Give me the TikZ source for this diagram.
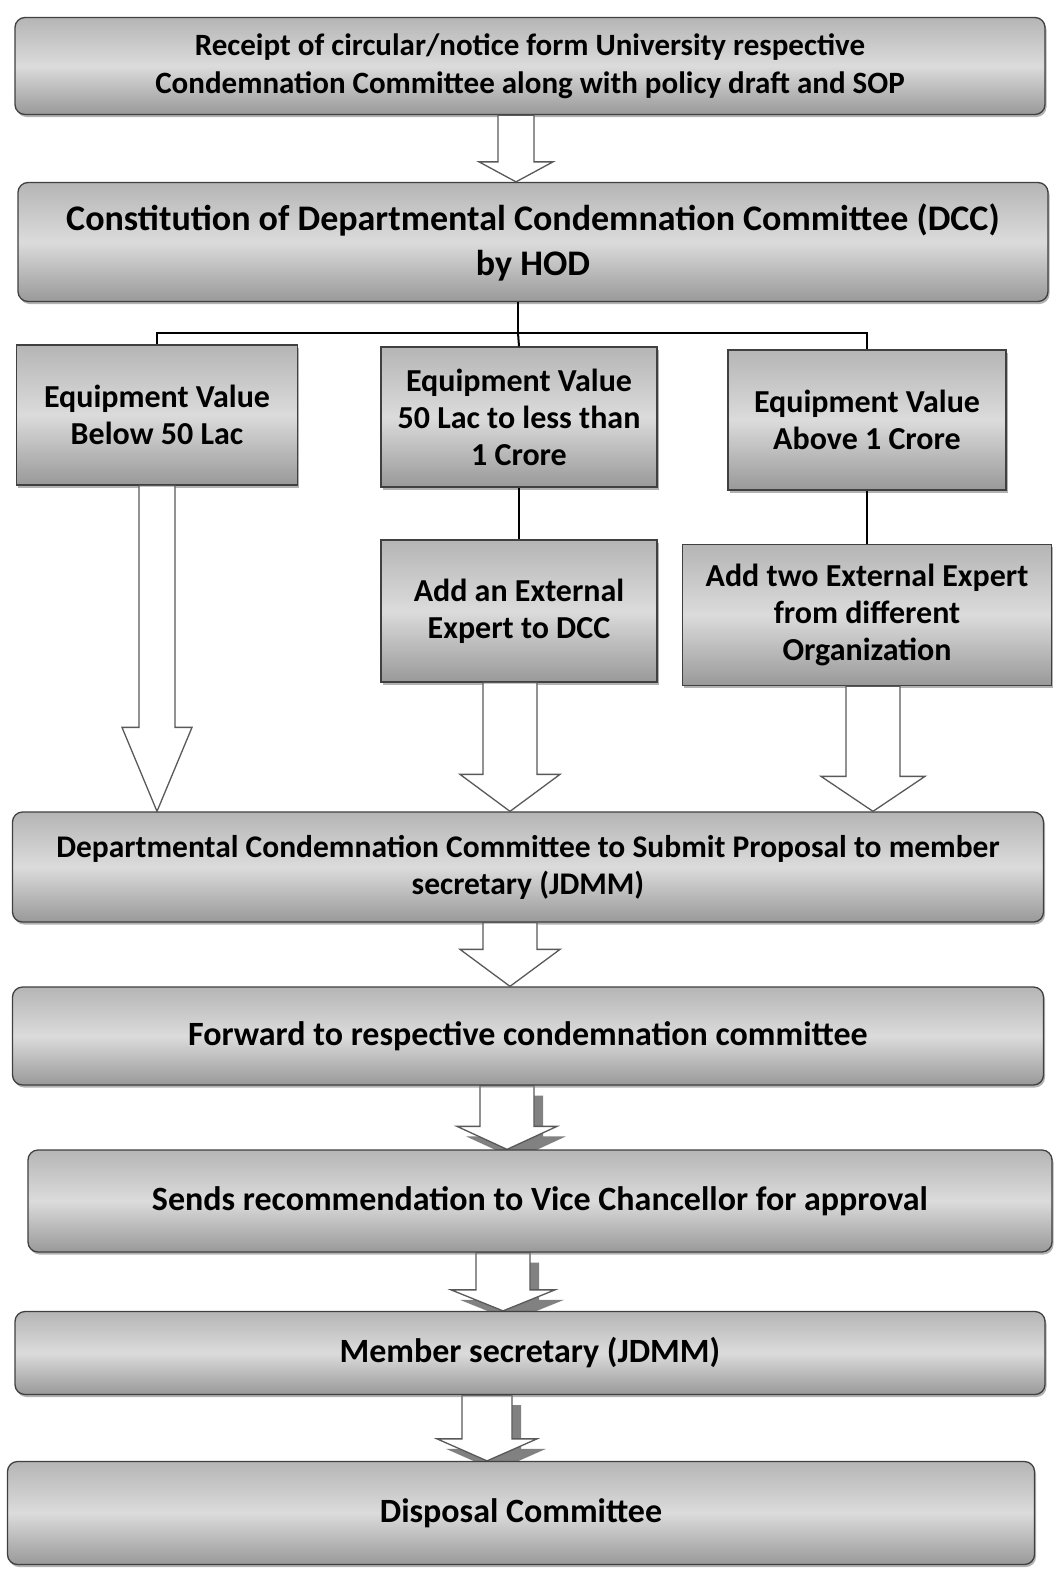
\documentclass[tikz,border=0pt]{standalone}
\usepackage{fontspec}
\setmainfont{Carlito}
\usetikzlibrary{calc,shadows}
\pgfdeclarelayer{bg}
\pgfdeclarelayer{mid}
\pgfsetlayers{bg,mid,main}
\tikzset{
 box/.style={draw=black!75, line width=1.3pt, top color=gray!58, bottom color=gray!80, middle color=gray!28,
   rounded corners=10pt, align=center, inner sep=0pt, text=black,
   font=\bfseries\fontsize{32}{37}\selectfont,
   drop shadow={shadow xshift=1.5pt, shadow yshift=-2.5pt, opacity=0.6}},
 sbox/.style={box, rounded corners=0pt},
 conn/.style={line width=2pt, black},
 harr/.style={draw=black!65, line width=1.3pt, fill=white, line join=miter},
 harrs/.style={harr, drop shadow={shadow xshift=9pt, shadow yshift=-10pt, fill=gray!60!black, opacity=0.7}},
}
\newcommand\harrow[7][harr]{%
 \coordinate (hx) at (#4,0);
 \path[#1] ($(#2.south -| hx)+(-#5,0)$) -- ($(#2.south -| hx)+(#5,0)$)
   -- ($(#3.north -| hx)+(#5,-#7)$) -- ($(#3.north -| hx)+(#6,-#7)$)
   -- (#3.north -| hx) -- ($(#3.north -| hx)+(-#6,-#7)$)
   -- ($(#3.north -| hx)+(-#5,-#7)$) -- cycle;}
\begin{document}
\begin{tikzpicture}[x=1pt,y=-1pt]
\begin{pgfonlayer}{bg}
\fill[white] (0,0) rectangle (1056,1574);
\end{pgfonlayer}
\useasboundingbox (0,0) rectangle (1056,1574);
% boxes
\node[box, minimum width=1030, minimum height=97, font=\bfseries\fontsize{31}{38}\selectfont] (B1) at (530,66)
  {Receipt of circular/notice form University respective\\Condemnation Committee along with policy draft and SOP};
\node[box, minimum width=1030, minimum height=119, font=\bfseries\fontsize{36}{45}\selectfont] (B2) at (533,242)
  {Constitution of Departmental Condemnation Committee (DCC)\\by HOD};
\node[sbox, minimum width=281, minimum height=140] (L) at (157,415) {Equipment Value\\Below 50 Lac};
\node[sbox, minimum width=276, minimum height=140] (M) at (519,417) {Equipment Value\\50 Lac to less than\\1 Crore};
\node[sbox, minimum width=278, minimum height=140] (R) at (867,420) {Equipment Value\\Above 1 Crore};
\node[sbox, minimum width=276, minimum height=142] (M2) at (519,611) {Add an External\\Expert to DCC};
\node[sbox, minimum width=369, minimum height=141] (R2) at (867,615) {Add two External Expert\\from different\\Organization};
\node[box, minimum width=1031, minimum height=110, font=\bfseries\fontsize{31.5}{37}\selectfont] (B4) at (528,867)
  {Departmental Condemnation Committee to Submit Proposal to member\\secretary (JDMM)};
\node[box, minimum width=1031, minimum height=98, font=\bfseries\fontsize{34}{38}\selectfont] (B5) at (528,1036)
  {Forward to respective condemnation committee};
\node[box, minimum width=1024, minimum height=102, font=\bfseries\fontsize{34}{38}\selectfont] (B6) at (540,1201)
  {Sends recommendation to Vice Chancellor for approval};
\node[box, minimum width=1030, minimum height=83, font=\bfseries\fontsize{34}{38}\selectfont] (B7) at (530,1353)
  {Member secretary (JDMM)};
\node[box, minimum width=1027, minimum height=103, font=\bfseries\fontsize{34}{38}\selectfont] (B8) at (521,1513)
  {Disposal Committee};
% tree connectors
\coordinate (j) at (518,333);
\draw[conn] (B2.south -| j) -- (j);
\draw[conn] (L.north) |- (j) -| (R.north);
\draw[conn] (j) -- (M.north);
\draw[conn] (M.south) -- (M2.north);
\draw[conn] (R.south) -- (R2.north);
% hollow arrows
\harrow{B1}{B2}{516}{18}{37}{20}
\harrow{L}{B4}{157}{18}{35}{84}
\harrow{M2}{B4}{510}{27}{50}{37}
\harrow{R2}{B4}{873}{27}{52}{35}
\harrow{B4}{B5}{510}{27}{50}{37}
\begin{pgfonlayer}{mid}
\harrow[harrs]{B5}{B6}{507}{27}{50}{23}
\harrow[harrs]{B6}{B7}{503}{27}{52}{21}
\harrow[harrs]{B7}{B8}{487}{25}{50}{22}
\end{pgfonlayer}
\end{tikzpicture}
\end{document}
